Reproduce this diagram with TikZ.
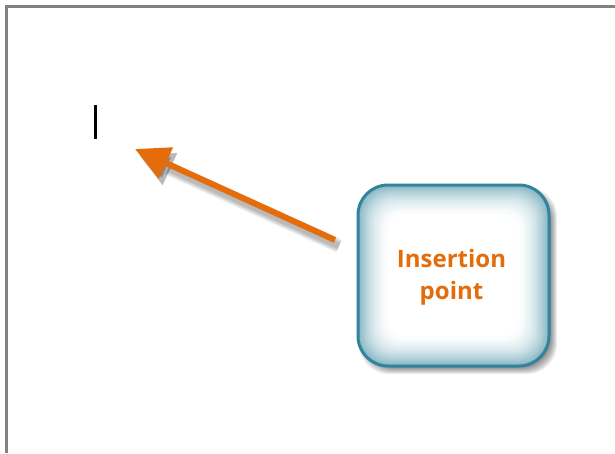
\documentclass[tikz,border=0pt]{standalone}
\usepackage{fontspec}
\setmainfont{Open Sans}
\usetikzlibrary{arrows.meta}
\definecolor{tealc}{RGB}{49,132,155}
\definecolor{orng}{RGB}{228,108,10}
\definecolor{frame}{RGB}{130,130,130}
\tikzset{
  calloutbox/.style={draw=tealc, line width=3pt, rounded corners=30pt,
    minimum width=191pt, minimum height=181pt, inner sep=0pt},
  callouttext/.style={text=orng, align=center, inner sep=0pt,
    font=\bfseries\fontsize{24}{32}\selectfont},
  pointer/.style={orng, line width=6pt, -{Triangle[length=34pt,width=33pt]}},
  pointershadow/.style={black, opacity=0.06, -{Triangle[length=34pt,width=33pt]}}
}
\begin{document}
\begin{tikzpicture}[x=1pt,y=-1pt]
\useasboundingbox (0,0) rectangle (615,453);
\fill[white] (0,0) rectangle (615,453);
% page frame
\draw[line width=3pt, frame] (6.5,453) -- (6.5,6.5) -- (615,6.5);
% insertion cursor
\node[fill=black, minimum width=3pt, minimum height=34pt, inner sep=0pt] (cursor) at (95,122) {};
% box shadow
\foreach \k in {0,...,7} {
  \fill[black, opacity=0.07, rounded corners=30pt]
    (358+8-\k,185+9-\k) rectangle (550+\k,367+\k);
}
% inner glow
\foreach \i in {0,...,34} {
  \pgfmathtruncatemacro\p{60*(1-\i/35)^2}
  \pgfmathsetmacro\r{max(30-\i*0.5,10)}
  \fill[tealc!\p!white, rounded corners=\r pt] (358+\i,185+\i) rectangle (549-\i,366-\i);
}
\node[calloutbox] (box) at (453.5,275.5) {};
\node[callouttext] (boxtext) at ([xshift=-2pt,yshift=-2pt]box.center) {Insertion\\point};
% arrow
\coordinate (tail) at (335,240);
\coordinate (tip) at (135,149);
\coordinate (stail) at (339,246);
\coordinate (stip) at (139,155);
\foreach \w in {6,8,10,12,14} {
  \draw[pointershadow, line width=\w pt] (stail) -- (stip);
}
\draw[pointer] (tail) -- (tip);
\end{tikzpicture}
\end{document}
